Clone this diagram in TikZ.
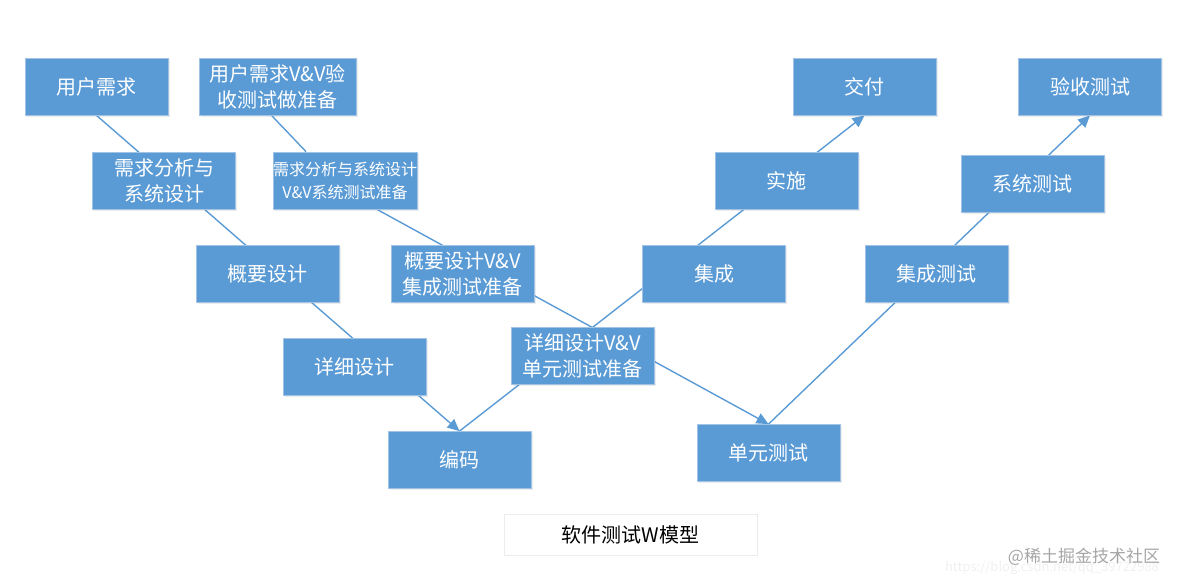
\documentclass[tikz,border=0pt]{standalone}
\usepackage{fontspec}
\setmainfont{Noto Sans CJK SC}
\usetikzlibrary{positioning,arrows.meta,backgrounds,shadows}
\definecolor{boxblue}{RGB}{91,155,213}
\definecolor{boxedge}{RGB}{160,195,230}
\definecolor{linkblue}{RGB}{91,155,213}

\begin{document}
\begin{tikzpicture}[x=1pt,y=-1pt,on grid,font=\fontsize{20pt}{26pt}\selectfont,
	box/.style={rectangle,fill=boxblue,draw=boxedge,line width=0.8pt,text=white,
		minimum width=143pt,minimum height=57pt,inner sep=0pt,align=center,
		drop shadow={shadow xshift=1.5pt,shadow yshift=-1.5pt,opacity=0.15}},
	caption/.style={rectangle,draw=gray!15,fill=white,text=black,
		minimum width=253pt,minimum height=41pt,inner sep=0pt},
	link/.style={draw=linkblue,line width=1.4pt},
	flow/.style={link,-{Triangle[length=12pt,width=11pt]}}]
	\useasboundingbox (0,0) rectangle (1182,586);
	% development branch
	\node[box] (req) at (96.5,86.5) {用户需求};
	\node[box,below right=94pt and 67.5pt of req] (ana) {需求分析与\\系统设计};
	\node[box,below right=93.5pt and 103.5pt of ana] (gai) {概要设计};
	\node[box,below right=92.5pt and 87pt of gai] (xiang) {详细设计};
	\node[box,below right=93.5pt and 105pt of xiang] (code) {编码};
	% V&V branch
	\node[box,minimum width=157pt,right=181pt of req] (uvv) {用户需求V\&V验\\收测试做准备};
	\node[box,right=181pt of ana,font=\fontsize{16pt}{23pt}\selectfont] (sysvv) {需求分析与系统设计\\V\&V系统测试准备};
	\node[box,right=195pt of gai] (gaivv) {概要设计V\&V\\集成测试准备};
	\node[box,above right=10.5pt and 228pt of xiang] (xiangvv) {详细设计V\&V\\单元测试准备};
	% delivery branch
	\node[box,right=251.5pt of gaivv] (ji) {集成};
	\node[box,right=441.5pt of sysvv] (shi) {实施};
	\node[box,right=587pt of uvv] (jiao) {交付};
	% test branch
	\node[box,above right=7pt and 309pt of code] (unit) {单元测试};
	\node[box,right=222.5pt of ji] (jitest) {集成测试};
	\node[box,above right=90pt and 96pt of jitest] (xitest) {系统测试};
	\node[box,right=225.5pt of jiao] (yan) {验收测试};
	\node[caption,below right=74.5pt and 171pt of code] (title) {软件测试W模型};
	% watermark
	\node[text=gray!12,font=\fontsize{13pt}{15pt}\selectfont] (url) at (1052,568) {https://blog.csdn.net/qq\_39722988};
	\node[text=gray!70,font=\fontsize{17pt}{20pt}\selectfont] (mark) at (1084,557) {@稀土掘金技术社区};
	\begin{scope}[on background layer]
		\draw[flow] (req.south) -- (code.north);
		\draw[link] ([xshift=-6pt]uvv.south) -- ([xshift=-39pt]sysvv.north);
		\draw[flow] ([xshift=32pt]sysvv.south) -- (unit.north);
		\draw[flow] (code.north) -- (jiao.south);
		\draw[flow] (unit.north) -- (yan.south);
	\end{scope}
\end{tikzpicture}
\end{document}
